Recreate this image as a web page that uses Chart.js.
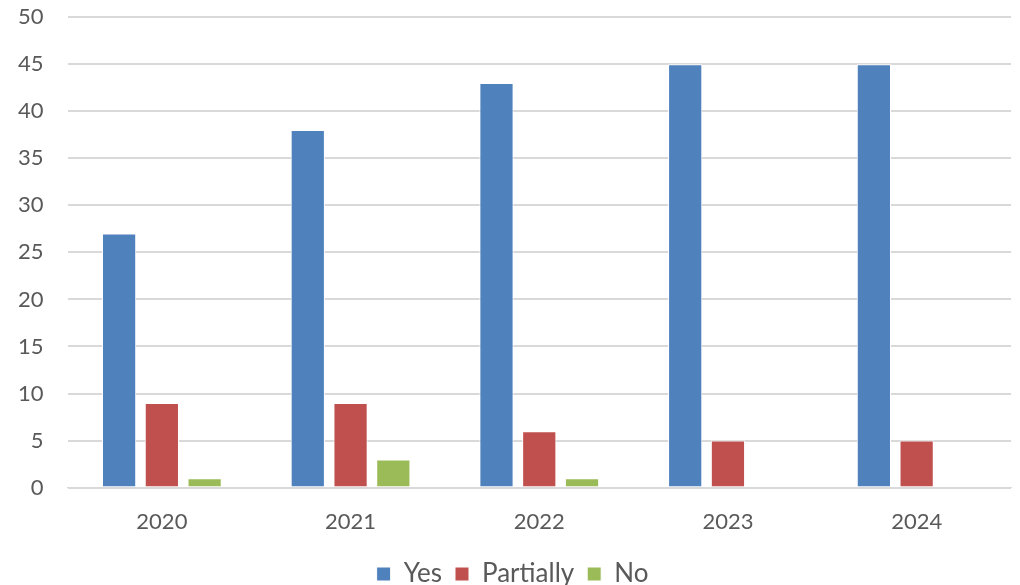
<!DOCTYPE html>
<html>
<head>
<meta charset="utf-8">
<script src="https://cdn.jsdelivr.net/npm/chart.js@4/dist/chart.umd.min.js"></script>
<style>
  html, body { margin: 0; padding: 0; background: #fff; }
  #wrap { width: 1020px; height: 585px; }
</style>
</head>
<body>
<div id="wrap"><canvas id="chart"></canvas></div>
<script>
const years = ['2020', '2021', '2022', '2023', '2024'];
const yesValues = [27, 38, 43, 45, 45];
const partiallyValues = [9, 9, 6, 5, 5];
const noValues = [1, 3, 1, 0, 0];
const yTicks = [0, 5, 10, 15, 20, 25, 30, 35, 40, 45, 50];

const textColor = '#595959';
const gridColor = '#d9d9d9';
const font = { family: 'Lato, "Open Sans", sans-serif', size: 22 };
const legendFont = { family: 'Lato, "Open Sans", sans-serif', size: 26 };

const mkSet = (label, data, color) => ({
  label: label,
  data: data,
  backgroundColor: color,
  borderColor: '#ffffff',
  borderWidth: 1,
  categoryPercentage: 0.68,
  barPercentage: 0.8
});

new Chart(document.getElementById('chart'), {
  type: 'bar',
  data: {
    labels: years,
    datasets: [
      mkSet('Yes', yesValues, '#4f81bd'),
      mkSet('Partially', partiallyValues, '#c0504d'),
      mkSet('No', noValues, '#9bbb59')
    ]
  },
  options: {
    responsive: true,
    maintainAspectRatio: false,
    animation: false,
    // negative bottom pad pulls the legend down near the edge, like the original
    layout: { padding: { left: 14, right: 9, top: 2, bottom: -12 } },
    plugins: {
      tooltip: { enabled: false },
      legend: {
        position: 'bottom',
        labels: {
          color: textColor,
          font: legendFont,
          boxWidth: 14,
          boxHeight: 14,
          padding: 13
        }
      }
    },
    scales: {
      x: {
        grid: { display: false },
        border: { color: gridColor, width: 1 },
        ticks: { color: textColor, font: font, padding: 13 }
      },
      y: {
        min: 0,
        max: 50,
        afterBuildTicks: (axis) => { axis.ticks = yTicks.map(v => ({ value: v })); },
        grid: { color: gridColor, lineWidth: 2, drawTicks: true, tickLength: 20, tickColor: 'rgba(0,0,0,0)' },
        border: { display: false },
        ticks: { color: textColor, font: font, padding: 4 }
      }
    }
  }
});
</script>
</body>
</html>
